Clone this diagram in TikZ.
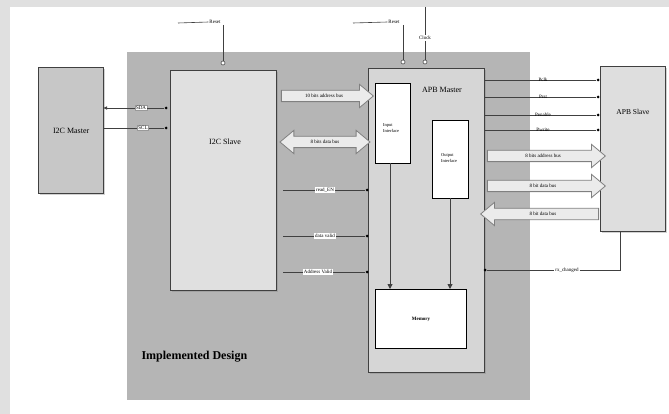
\documentclass[tikz,border=0pt]{standalone}
\usepackage{fontspec}
\setmainfont{Liberation Serif}
\usetikzlibrary{shapes.arrows,arrows.meta,shadows}
\begin{document}
\begin{tikzpicture}[x=1pt,y=-1pt,
  blk/.style={draw=black!75, line width=1.3pt, anchor=north west, inner sep=0pt,
     drop shadow={opacity=0.35, shadow xshift=1.5pt, shadow yshift=-1.5pt}},
  wbox/.style={draw=black, line width=1.4pt, fill=white, anchor=north west, inner sep=0pt},
  sig/.style={fill=white, inner sep=0.8pt, font=\fontsize{5}{6}\selectfont},
  wire/.style={draw=black!75, line width=0.6pt},
  dot/.style={circle, fill=black, inner sep=0pt, minimum size=3pt},
  pin/.style={circle, draw=black!70, fill=white, inner sep=0pt, minimum size=4pt, line width=0.6pt},
  fat/.style={single arrow, draw=black!50, fill=white!92!black, line width=0.8pt,
     inner sep=2.5pt, single arrow head extend=6pt, single arrow tip angle=80,
     minimum height=#1, font=\fontsize{5}{6}\selectfont, text height=4.5pt, text depth=1pt},
  fatd/.style={double arrow, draw=black!50, fill=white!92!black, line width=0.8pt,
     inner sep=2.5pt, double arrow head extend=6pt, double arrow tip angle=80,
     minimum height=#1, font=\fontsize{5}{6}\selectfont, text height=4.5pt, text depth=1pt},
]
\useasboundingbox (0,0) rectangle (669,414);
\fill[black!12] (0,0) rectangle (669,414);
\fill[white] (10,7) rectangle (669,414);

% implemented region
\node[fill=black!29, anchor=north west, minimum width=403pt, minimum height=348pt, inner sep=0pt] (impl) at (127,52) {};
\node[font=\bfseries\fontsize{12}{14}\selectfont, anchor=west] (impltxt) at (138,357) {Implemented Design};

% blocks
\node[blk, fill=black!22, minimum width=65pt, minimum height=126pt,
      font=\fontsize{8}{9}\selectfont] (i2cm) at (38,67) {I2C Master};
\node[blk, fill=black!12, minimum width=106pt, minimum height=220pt] (i2cs) at (170,70) {};
\node[font=\fontsize{8}{9}\selectfont] (i2cstxt) at (225,142) {I2C Slave};
\node[blk, fill=black!16, minimum width=116pt, minimum height=304pt] (apbm) at (368,68) {};
\node[font=\fontsize{8}{9}\selectfont] (apbmtxt) at (442,90) {APB Master};
\node[blk, fill=black!13, minimum width=65pt, minimum height=165pt] (apbs) at (600,66) {};
\node[font=\fontsize{7.5}{9}\selectfont] (apbstxt) at (633,112) {APB Slave};

\node[wbox, minimum width=35pt, minimum height=80pt] (inif) at (375,83) {};
\node[font=\fontsize{4.5}{5.5}\selectfont, align=left] (iniftxt) at (391,128) {Input\\Interface};
\node[wbox, line width=1pt, minimum width=36pt, minimum height=78pt] (outif) at (432,120) {};
\node[font=\fontsize{4.5}{5.5}\selectfont, align=left] (outiftxt) at (449,158) {Output\\Interface};
\node[wbox, line width=1pt, minimum width=91pt, minimum height=59pt,
      font=\bfseries\fontsize{5}{6}\selectfont] (mem) at (375,289) {Memory};

% memory arrows
\coordinate (ia) at (390,163);
\coordinate (ib) at (390,289);
\coordinate (oa) at (450,198);
\coordinate (ob) at (450,289);
\draw[wire, line width=0.9pt, -{Triangle[length=5pt,width=5pt]}] (ia) -- (ib);
\draw[wire, line width=0.9pt, -{Triangle[length=5pt,width=5pt]}] (oa) -- (ob);

% reset / clock
\coordinate (r1a) at (178,23);
\node[sig] (reset1) at (215,22) {Reset};
\coordinate (r1b) at (223,25);
\node[pin] (p1) at (223,63) {};
\draw[wire] (r1a) -- (reset1.west);
\draw[wire] (r1b) -- (p1);

\coordinate (r2a) at (353,23);
\node[sig] (reset2) at (394,22) {Reset};
\coordinate (r2b) at (403,25);
\node[pin] (p2) at (403,62) {};
\draw[wire] (r2a) -- (reset2.west);
\draw[wire] (r2b) -- (p2);

\coordinate (ck) at (425,7);
\node[sig] (clock) at (425,38) {Clock};
\node[pin] (p3) at (425,62) {};
\draw[wire] (ck) -- (clock.north);
\draw[wire] (clock.south) -- (p3);

% SDA / SCL
\coordinate (sdam) at (103,108);
\node[dot] (sdas) at (166,108) {};
\node[sig, draw=black!40] (sda) at (141,108) {SDA};
\draw[wire, {Latex[length=4pt,width=3.5pt]}-] (sdam) -- (sda.west);
\draw[wire] (sda.east) -- (sdas);
\coordinate (sclm) at (103,128);
\node[dot] (scls) at (166,128) {};
\node[sig, draw=black!40] (scl) at (143,128) {SCL};
\draw[wire] (sclm) -- (scl.west);
\draw[wire] (scl.east) -- (scls);

% left fat arrows
\node[fat=92pt] (a10) at (324,96) {10 bits address bus};
\node[fatd=90pt] (d8) at (325,142) {8 bits data bus};

% left signals
\coordinate (s1a) at (283,190);
\node[dot] (s1b) at (367,190) {};
\draw[wire] (s1a) -- (s1b);
\node[sig] (s1) at (325,190) {read\_EN};
\coordinate (s2a) at (283,236);
\node[dot] (s2b) at (367,236) {};
\draw[wire] (s2a) -- (s2b);
\node[sig] (s2) at (325,236) {data valid};
\coordinate (s3a) at (283,272);
\node[dot] (s3b) at (367,272) {};
\draw[wire] (s3a) -- (s3b);
\node[sig] (s3) at (318,272) {Address Valid};

% right signals
\foreach \y/\t/\n in {80/Pclk/q1, 97/Prst/q2, 115/Penable/q3, 130/Pwrite/q4}{
  \coordinate (\n a) at (484,\y);
  \node[dot] (\n b) at (598,\y) {};
  \draw[wire] (\n a) -- (\n b);
  \node[sig, fill=none] (\n) at (543,\y) {\t};
}

% right fat arrows
\node[fat=118pt] (ra1) at (543,156) {8 bits address bus};
\node[fat=118pt] (ra2) at (543,186) {8 bit data bus};
\node[fat=118pt, shape border rotate=180] (ra3) at (543,214) {8 bit data bus};

% rx_changed
\node[dot] (rxd) at (485,270) {};
\coordinate (rxc) at (620,270);
\coordinate (rxe) at (620,231);
\node[sig, fill=none] (rx) at (567,270) {rx\_changed};
\draw[wire] (rxd) -- (rx.west);
\draw[wire] (rx.east) -- (rxc) -- (rxe);
\end{tikzpicture}
\end{document}
